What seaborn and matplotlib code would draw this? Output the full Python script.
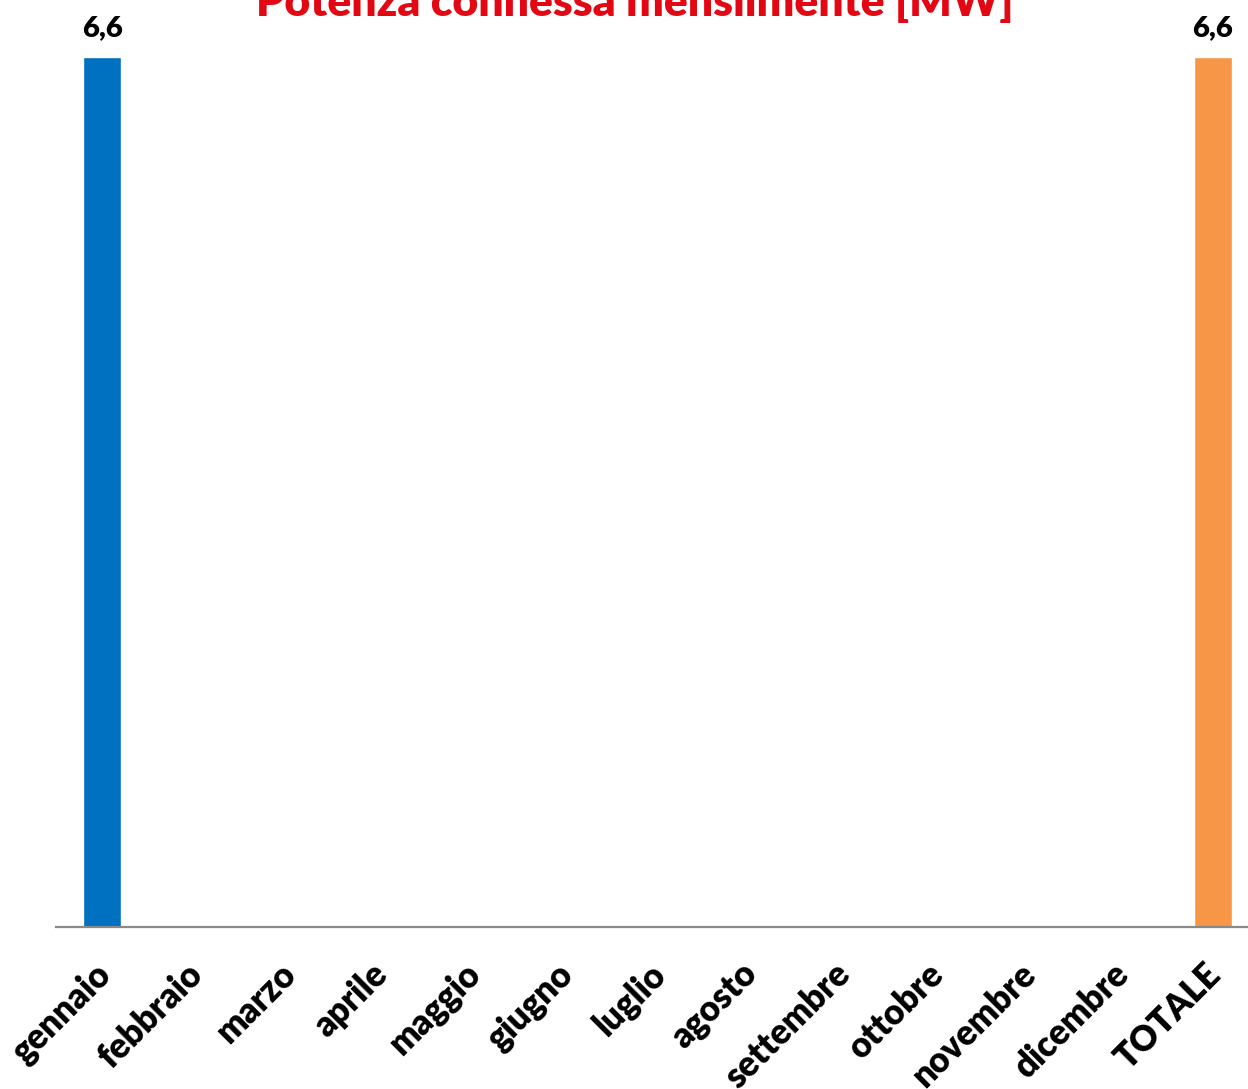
import matplotlib
matplotlib.use("Agg")

import matplotlib.pyplot as plt
import matplotlib.transforms as mtransforms
import pandas as pd
import seaborn as sns

categories = ["gennaio", "febbraio", "marzo", "aprile", "maggio", "giugno",
              "luglio", "agosto", "settembre", "ottobre", "novembre",
              "dicembre", "TOTALE"]
values = [6.6, 0, 0, 0, 0, 0, 0, 0, 0, 0, 0, 0, 6.6]
title = "Potenza connessa mensilmente [MW]"

bar_colors = {c: "#0070C0" for c in categories}
bar_colors["TOTALE"] = "#F79646"

sns.set_theme(style="white")
plt.rcParams["font.family"] = ["Lato", "DejaVu Sans"]

df = pd.DataFrame({"mese": categories, "mw": values})

fig = plt.figure(figsize=(12.48, 10.89), dpi=100)
W, H = 1248, 1089
ax = fig.add_axes([56 / W, 1 - 927 / H, (1259 - 56) / W, (927 - 4) / H])

sns.barplot(data=df, x="mese", y="mw", hue="mese", palette=bar_colors,
            width=0.41, legend=False, ax=ax, saturation=1)

ax.set_xlim(-0.5, 12.5)
ax.set_ylim(0, 7.0)
ax.set_xlabel("")
ax.set_ylabel("")
ax.set_yticks([])
for side in ["top", "left", "right"]:
    ax.spines[side].set_visible(False)
ax.spines["bottom"].set_color("#898989")
ax.spines["bottom"].set_linewidth(1.6)
ax.tick_params(axis="x", length=0, pad=26)

# nudge the rotated labels a little up and to the left
shift = mtransforms.ScaledTranslation(-9 / 100, 6 / 100, fig.dpi_scale_trans)
for lbl in ax.get_xticklabels():
    lbl.set_rotation(45)
    lbl.set_ha("right")
    lbl.set_va("top")
    lbl.set_rotation_mode("anchor")
    lbl.set_fontsize(25)
    lbl.set_fontweight("heavy")
    lbl.set_color("black")
    lbl.set_transform(lbl.get_transform() + shift)

for i, v in enumerate(values):
    if v > 0:
        ax.text(i, v + 0.12, f"{v:.1f}".replace(".", ","), ha="center",
                va="bottom", fontsize=21, fontweight="heavy", color="black")

fig.text(635 / W, 1 - 16 / H, title, ha="center", va="baseline",
         fontsize=32, fontweight="heavy", color="#E30613")

fig.savefig("out.png", dpi=100)
plt.close(fig)
